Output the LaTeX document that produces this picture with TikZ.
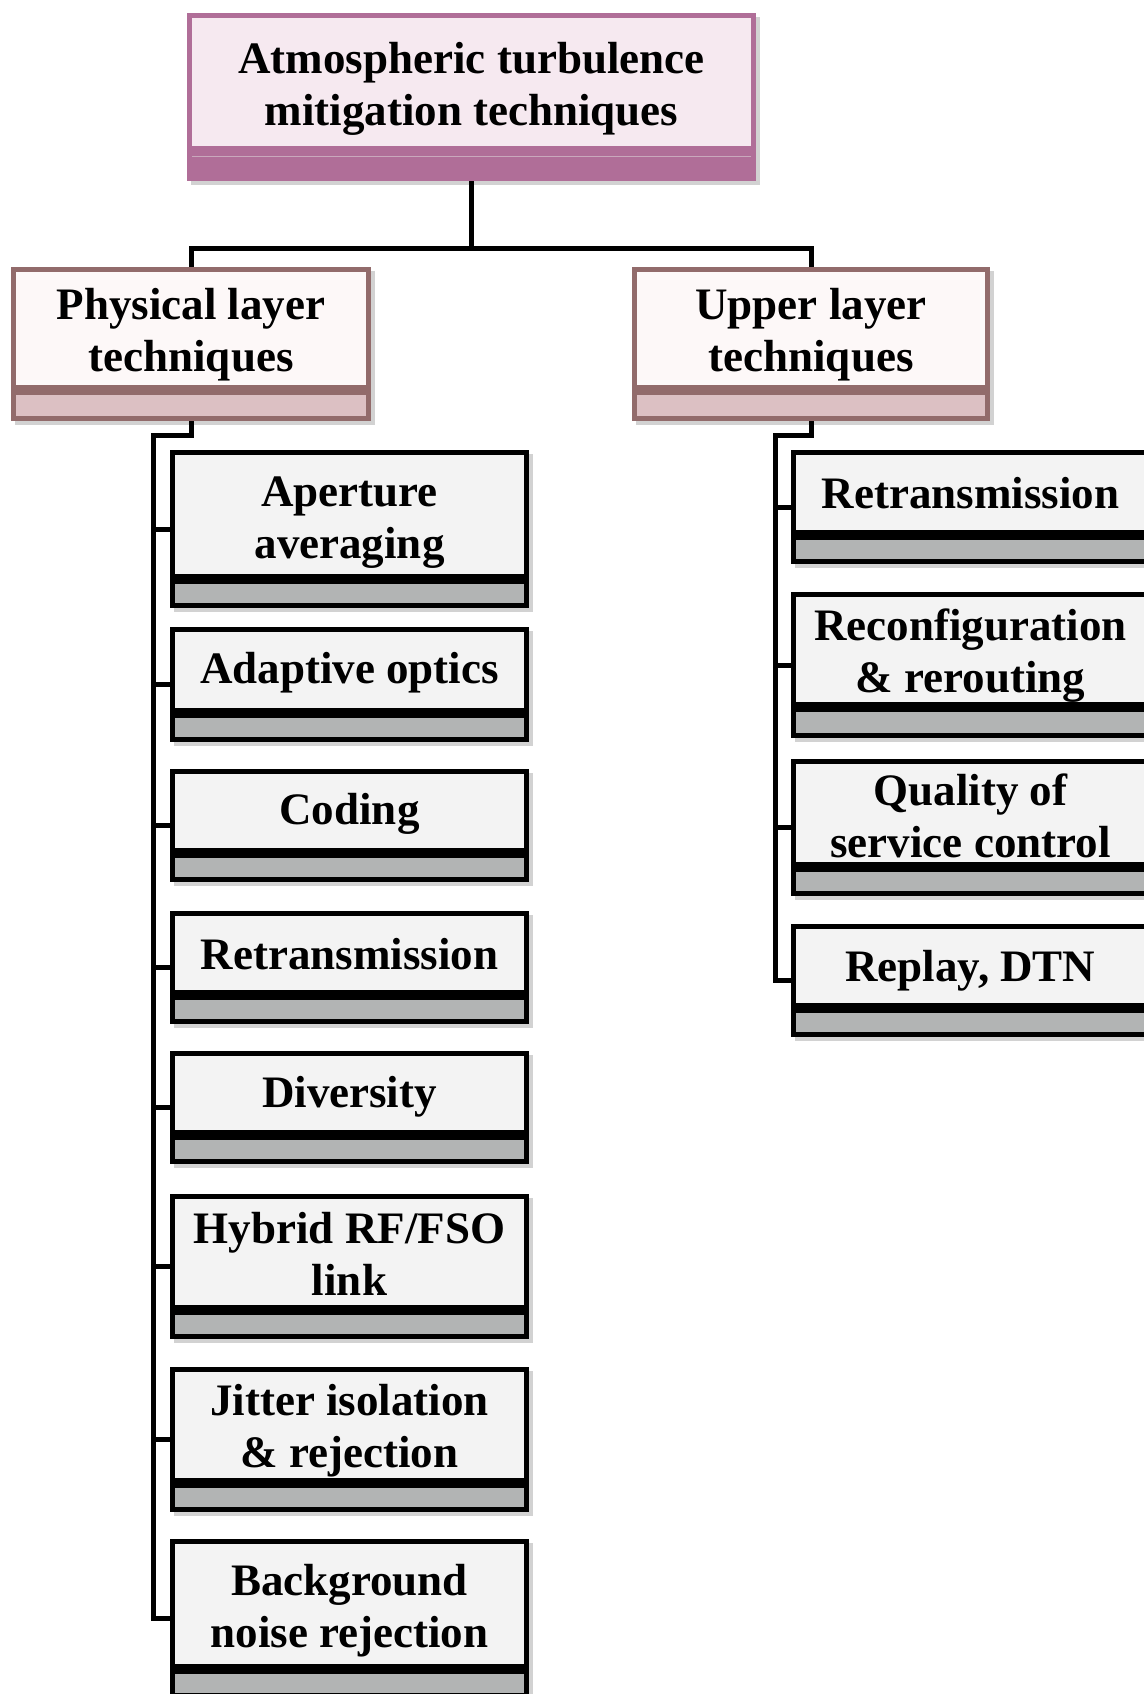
\documentclass[tikz,border=0pt]{standalone}
\usepackage{fontspec}
\setmainfont{Liberation Serif}
\usetikzlibrary{calc,backgrounds}
\definecolor{topBorder}{HTML}{B06E98}
\definecolor{topFill}{HTML}{F6E9F0}
\definecolor{topLine}{HTML}{C9A8BC}
\definecolor{layBorder}{HTML}{926B6B}
\definecolor{layFill}{HTML}{FDF8F8}
\definecolor{layBand}{HTML}{DCC0C3}
\definecolor{kidFill}{HTML}{F3F3F3}
\definecolor{kidBand}{HTML}{B2B4B4}
\definecolor{shadeGray}{HTML}{D2D2D2}
\begin{document}
\begin{tikzpicture}[x=1pt,y=-1pt,
  shell/.style={inner sep=0pt, anchor=north west, line width=5pt},
  txt/.style={font=\fontsize{45}{52}\selectfont\bfseries, align=center, inner sep=0pt},
  topbox/.style={shell, draw=topBorder, fill=topFill},
  topband/.style={draw=topBorder, fill=topBorder, line width=5pt, anchor=north, inner sep=0pt},
  laybox/.style={shell, draw=layBorder, fill=layFill, minimum height=117.5pt},
  layband/.style={draw=layBorder, fill=layBand, line width=5pt, anchor=north, inner sep=0pt, minimum height=26.5pt},
  kidbox/.style={shell, draw=black, fill=kidFill, minimum width=354pt},
  kidband/.style={draw=black, fill=kidBand, line width=5pt, anchor=north, inner sep=0pt, minimum width=354pt, minimum height=24.5pt},
  conn/.style={line width=5pt, draw=black},
  shadowfill/.style={fill=shadeGray},
]
\useasboundingbox (0,0) rectangle (1143,1694);

% top
\node[topbox, minimum width=564pt, minimum height=132.5pt] (top) at (187,13) {};
\node[topband, minimum width=564pt, minimum height=25.5pt] (topb) at (top.south) {};

% layers
\node[laybox, minimum width=355pt] (phys) at (11,267) {};
\node[layband, minimum width=355pt] (physb) at (phys.south) {};
\node[laybox, minimum width=353pt] (upper) at (632,267) {};
\node[layband, minimum width=353pt] (upperb) at (upper.south) {};

% left children
\node[kidbox, minimum height=123.5pt] (k1) at (170,450) {};
\node[kidband] (k1b) at (k1.south) {};
\node[kidbox, minimum height=80.5pt] (k2) at (170,627) {};
\node[kidband] (k2b) at (k2.south) {};
\node[kidbox, minimum height=78.5pt] (k3) at (170,769) {};
\node[kidband] (k3b) at (k3.south) {};
\node[kidbox, minimum height=78.5pt] (k4) at (170,911) {};
\node[kidband] (k4b) at (k4.south) {};
\node[kidbox, minimum height=78.5pt] (k5) at (170,1051) {};
\node[kidband] (k5b) at (k5.south) {};
\node[kidbox, minimum height=110.5pt] (k6) at (170,1194) {};
\node[kidband] (k6b) at (k6.south) {};
\node[kidbox, minimum height=110.5pt] (k7) at (170,1367) {};
\node[kidband] (k7b) at (k7.south) {};
\node[kidbox, minimum height=124.5pt] (k8) at (170,1539) {};
\node[kidband] (k8b) at (k8.south) {};

% right children
\node[kidbox, minimum height=79.5pt] (r1) at (791,450) {};
\node[kidband] (r1b) at (r1.south) {};
\node[kidbox, minimum height=109.5pt] (r2) at (791,592) {};
\node[kidband, minimum height=26.5pt] (r2b) at (r2.south) {};
\node[kidbox, minimum height=102.5pt] (r3) at (791,759) {};
\node[kidband] (r3b) at (r3.south) {};
\node[kidbox, minimum height=78.5pt] (r4) at (791,924) {};
\node[kidband] (r4b) at (r4.south) {};

% texts
\node[txt] (topt) at ($(top.center)+(0,7.5)$) {Atmospheric turbulence\\mitigation techniques};
\node[txt] (physt) at ($(phys.center)+(0,6.5)$) {Physical layer\\techniques};
\node[txt] (uppert) at ($(upper.center)+(0,6.5)$) {Upper layer\\techniques};
\node[txt] (k1t) at ($(k1.center)+(0,8)$) {Aperture\\averaging};
\node[txt] (k2t) at ($(k2.center)+(0,3)$) {Adaptive optics};
\node[txt] (k3t) at ($(k3.center)+(0,3)$) {Coding};
\node[txt] (k4t) at ($(k4.center)+(0,1)$) {Retransmission};
\node[txt] (k5t) at ($(k5.center)+(0,4)$) {Diversity};
\node[txt] (k6t) at ($(k6.center)+(0,2)$) {Hybrid RF/FSO\\link};
\node[txt] (k7t) at ($(k7.center)+(0,6)$) {Jitter isolation\\\& rejection};
\node[txt] (k8t) at ($(k8.center)+(0,7)$) {Background\\noise rejection};
\node[txt] (r1t) at ($(r1.center)+(0,0.5)$) {Retransmission};
\node[txt] (r2t) at ($(r2.center)+(0,6)$) {Reconfiguration\\\& rerouting};
\node[txt] (r3t) at ($(r3.center)+(0,3.5)$) {Quality of\\service control};
\node[txt] (r4t) at ($(r4.center)+(0,5)$) {Replay, DTN};

% thin light line at top band
\draw[topLine, line width=1.5pt] ($(topb.north west)+(5,6)$) -- ($(topb.north east)+(-5,6)$);

% branch points
\foreach \n in {k1,k2,k3,k4,k5,k6,k7,k8,r1,r2,r3,r4}{
  \coordinate (\n w) at ($(\n.north west)!0.5!(\n b.south west)$);
}
\coordinate (hub) at (471.5,248);
\coordinate (Lhub) at (153,435);
\coordinate (Rhub) at (775,435);

\begin{scope}[on background layer]
  \fill[white] (0,0) rectangle (1143,1694);
  \foreach \n in {top,phys,upper,k1,k2,k3,k4,k5,k6,k7,k8,r1,r2,r3,r4}{
    \fill[shadowfill] ($(\n.north west)+(4,4)$) rectangle ($(\n b.south east)+(4,4)$);
  }
  \draw[conn] (topb.south) -- (hub);
  \draw[conn] (phys.north) |- (hub) -| (upper.north);
  \draw[conn] (physb.south) |- (Lhub) |- (k8w);
  \foreach \n in {k1,k2,k3,k4,k5,k6,k7}{
    \draw[conn] (Lhub |- \n w) -- (\n w);
  }
  \draw[conn] (upperb.south) |- (Rhub) |- (r4w);
  \foreach \n in {r1,r2,r3}{
    \draw[conn] (Rhub |- \n w) -- (\n w);
  }
\end{scope}
\end{tikzpicture}
\end{document}
